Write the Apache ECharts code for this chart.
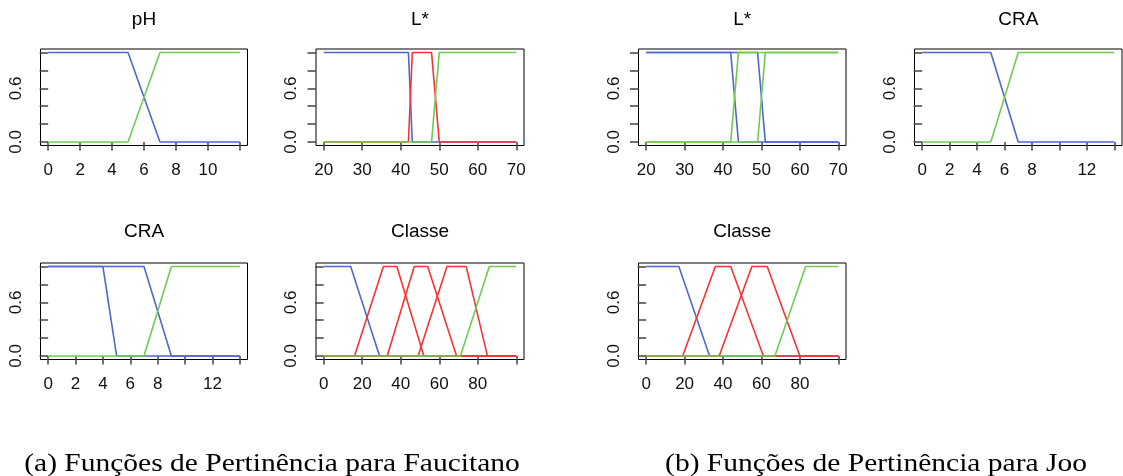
<!DOCTYPE html>
<html>
<head>
<meta charset="utf-8">
<script src="https://cdn.jsdelivr.net/npm/echarts@6/dist/echarts.min.js"></script>
<style>
  html, body { margin: 0; padding: 0; background: #fff; }
  #chart { width: 1123px; height: 476px; }
</style>
</head>
<body>
<div id="chart"></div>
<script>
// ---------- Data (membership function breakpoints [x, membership]) ----------
// (a) Faucitano
const fPhLow   = [[0, 1], [5, 1], [7, 0], [12, 0]];
const fPhHigh  = [[0, 0], [5, 0], [7, 1], [12, 1]];
const fLLow    = [[20, 1], [42, 1], [43, 0], [70, 0]];
const fLMid    = [[20, 0], [42, 0], [43, 1], [48, 1], [50, 0], [70, 0]];
const fLHigh   = [[20, 0], [48, 0], [50, 1], [70, 1]];
const fCraLow1 = [[0, 1], [4, 1], [5, 0], [14, 0]];
const fCraLow2 = [[0, 1], [7, 1], [9, 0], [14, 0]];
const fCraHigh = [[0, 0], [7, 0], [9, 1], [14, 1]];
const fClsLow  = [[0, 1], [14, 1], [29, 0], [100, 0]];
const fClsMid1 = [[0, 0], [16, 0], [31, 1], [38, 1], [52, 0], [100, 0]];
const fClsMid2 = [[0, 0], [33, 0], [47, 1], [54, 1], [69, 0], [100, 0]];
const fClsMid3 = [[0, 0], [49, 0], [64, 1], [74, 1], [85, 0], [100, 0]];
const fClsHigh = [[0, 0], [71, 0], [86, 1], [100, 1]];
// (b) Joo
const jLLow1   = [[20, 1], [42, 1], [44, 0], [70, 0]];
const jLLow2   = [[20, 1], [49, 1], [51, 0], [70, 0]];
const jLHigh1  = [[20, 0], [42, 0], [44, 1], [70, 1]];
const jLHigh2  = [[20, 0], [49, 0], [51, 1], [70, 1]];
const jCraLow  = [[0, 1], [5, 1], [7, 0], [14, 0]];
const jCraHigh = [[0, 0], [5, 0], [7, 1], [14, 1]];
const jClsLow  = [[0, 1], [17, 1], [33, 0], [100, 0]];
const jClsMid1 = [[0, 0], [19, 0], [36, 1], [44, 1], [61, 0], [100, 0]];
const jClsMid2 = [[0, 0], [38, 0], [55, 1], [63, 1], [80, 0], [100, 0]];
const jClsHigh = [[0, 0], [67, 0], [83, 1], [100, 1]];

// ---------- Tick values / labels ----------
const phTicks = [0, 2, 4, 6, 8, 10, 12];
const phLabels = [0, 2, 4, 6, 8, 10];
const lTicks = [20, 30, 40, 50, 60, 70];
const lLabels = [20, 30, 40, 50, 60, 70];
const craTicks = [0, 2, 4, 6, 8, 10, 12, 14];
const craLabels = [0, 2, 4, 6, 8, 12];
const clsTicks = [0, 20, 40, 60, 80, 100];
const clsLabels = [0, 20, 40, 60, 80];
const yTicks = [0, 0.2, 0.4, 0.6, 0.8, 1.0];
const yLabels = [0, 0.6];

const titles = ['pH', 'L*', 'L*', 'CRA', 'CRA', 'Classe', 'Classe'];
const captions = ['(a) Funções de Pertinência para Faucitano', '(b) Funções de Pertinência para Joo'];

// ---------- Layout ----------
const BLUE = '#4f67cf', RED = '#f43434', GREEN = '#70cc50';
const panels = [
  { box: [40.5, 49, 207, 96.5], x: [0, 12],  ticks: phTicks,  labels: phLabels,
    series: [[fPhLow, BLUE], [fPhHigh, GREEN]] },
  { box: [316, 49, 208, 96.5],  x: [20, 70], ticks: lTicks,   labels: lLabels,
    series: [[fLLow, BLUE], [fLMid, RED], [fLHigh, GREEN]] },
  { box: [638.5, 49, 207.5, 96.5], x: [20, 70], ticks: lTicks, labels: lLabels,
    series: [[jLLow1, BLUE], [jLLow2, BLUE], [jLHigh1, GREEN], [jLHigh2, GREEN]] },
  { box: [914.5, 49, 207.5, 96.5], x: [0, 14], ticks: craTicks, labels: craLabels,
    series: [[jCraLow, BLUE], [jCraHigh, GREEN]] },
  { box: [40.5, 263, 207, 96.5], x: [0, 14], ticks: craTicks, labels: craLabels,
    series: [[fCraLow1, BLUE], [fCraLow2, BLUE], [fCraHigh, GREEN]] },
  { box: [316, 263, 208, 96.5], x: [0, 100], ticks: clsTicks, labels: clsLabels,
    series: [[fClsLow, BLUE], [fClsMid1, RED], [fClsMid2, RED], [fClsMid3, RED], [fClsHigh, GREEN]] },
  { box: [638.5, 263, 207.5, 96.5], x: [0, 100], ticks: clsTicks, labels: clsLabels,
    series: [[jClsLow, BLUE], [jClsMid1, RED], [jClsMid2, RED], [jClsHigh, GREEN]] }
];

const FONT = '"Liberation Sans", Arial, sans-serif';
const SERIF = '"Liberation Serif", "DejaVu Serif", serif';
const grid = [], xAxis = [], yAxis = [], series = [], graphic = [];

panels.forEach((p, i) => {
  const [l, t, w, h] = p.box;
  grid.push({ left: l, top: t, width: w, height: h, show: true,
              borderColor: '#000', borderWidth: 1, backgroundColor: 'transparent',
              containLabel: false });
  const ext = (p.x[1] - p.x[0]) * 0.04;
  xAxis.push({
    type: 'value', gridIndex: i, min: p.x[0] - ext, max: p.x[1] + ext,
    axisLine: { show: false }, splitLine: { show: false },
    axisTick: { show: true, length: 8.5, customValues: p.ticks,
                lineStyle: { color: '#444', width: 1.5 } },
    axisLabel: { show: true, customValues: p.labels, fontSize: 17, color: '#111',
                 fontFamily: FONT, margin: 16 }
  });
  yAxis.push({
    type: 'value', gridIndex: i, min: -0.04, max: 1.04,
    axisLine: { show: false }, splitLine: { show: false },
    axisTick: { show: true, length: 8.5, customValues: yTicks,
                lineStyle: { color: '#444', width: 1.5 } },
    axisLabel: { show: true, customValues: yLabels, fontSize: 17, color: '#111',
                 fontFamily: FONT, margin: 16, rotate: 90,
                 formatter: v => Number(v).toFixed(1) }
  });
  p.series.forEach(([data, color]) => {
    series.push({
      type: 'line', xAxisIndex: i, yAxisIndex: i, data: data,
      symbol: 'none', showSymbol: false, silent: true,
      lineStyle: { color: color, width: 1.6 }
    });
  });
  graphic.push({
    type: 'text', x: l + w / 2, y: t < 100 ? 20 : 232,
    style: { text: titles[i], font: '19px ' + FONT, fill: '#000',
             textAlign: 'center', textVerticalAlign: 'middle' }
  });
});

graphic.push({
  type: 'text', x: 272, y: 464, scaleX: 1.18,
  style: { text: captions[0], font: '25px ' + SERIF, fill: '#000',
           textAlign: 'center', textVerticalAlign: 'middle' }
});
graphic.push({
  type: 'text', x: 876, y: 464, scaleX: 1.18,
  style: { text: captions[1], font: '25px ' + SERIF, fill: '#000',
           textAlign: 'center', textVerticalAlign: 'middle' }
});

const chart = echarts.init(document.getElementById('chart'), null, { renderer: 'canvas' });
chart.setOption({
  animation: false,
  backgroundColor: '#fff',
  grid, xAxis, yAxis, series, graphic
});
</script>
</body>
</html>
